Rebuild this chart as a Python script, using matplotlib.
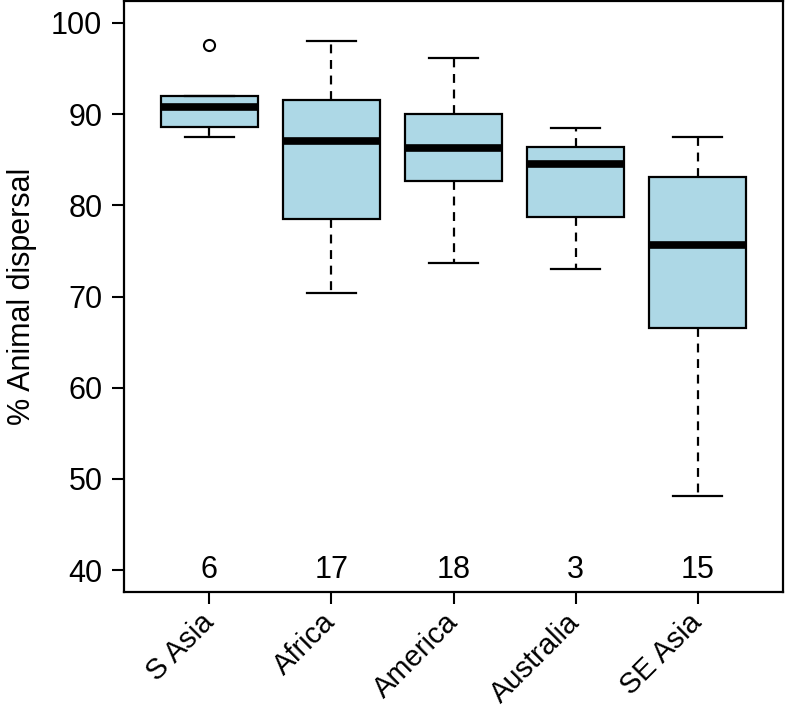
import numpy as np
import matplotlib
matplotlib.use('Agg')
import matplotlib.pyplot as plt

plt.rcParams['font.family'] = ['Liberation Sans', 'DejaVu Sans']

# values
regions = ['S Asia', 'Africa', 'America', 'Australia', 'SE Asia']
n_sites = [6, 17, 18, 3, 15]
whis_lo = [87.5, 70.4, 73.7, 73.0, 48.1]
q1 = [88.6, 78.55, 82.7, 78.7, 66.5]
median = [90.8, 87.0, 86.3, 84.5, 75.6]
q3 = [92.0, 91.5, 90.0, 86.4, 83.1]
whis_hi = [92.0, 98.0, 96.2, 88.5, 87.5]
outliers = [[97.6], [], [], [], []]

stats = []
for i, name in enumerate(regions):
    stats.append(dict(label=name, med=median[i], q1=q1[i], q3=q3[i],
                      whislo=whis_lo[i], whishi=whis_hi[i], fliers=outliers[i]))

FS = 22

fig = plt.figure(figsize=(7.86, 7.13), dpi=100)
ax = fig.add_axes([0.1578, 0.1697, 0.8384, 0.8289])

pos = np.arange(1, len(regions) + 1)
ax.bxp(stats, positions=pos, widths=0.8, patch_artist=True, showfliers=True,
       boxprops=dict(facecolor='#ADD8E6', edgecolor='black', linewidth=1.6),
       medianprops=dict(color='black', linewidth=5.5, solid_capstyle='butt'),
       whiskerprops=dict(color='black', linewidth=1.6, linestyle=(0, (4, 3))),
       capprops=dict(color='black', linewidth=1.6),
       capwidths=0.4,
       flierprops=dict(marker='o', markersize=8, markerfacecolor='none',
                       markeredgecolor='black', markeredgewidth=1.5))

for x, n in zip(pos, n_sites):
    ax.text(x, 40, str(n), ha='center', va='center', fontsize=FS)

ax.set_xlim(0.3, 5.7)
ax.set_ylim(37.6, 102.4)
ax.set_yticks(np.arange(40, 101, 10))
ax.set_xticks(pos)
ax.set_xticklabels(regions, rotation=45, ha='right', va='center',
                   rotation_mode='anchor', fontsize=21)
ax.tick_params(axis='y', direction='out', length=8.6, width=1.5,
               labelsize=FS, pad=7)
ax.tick_params(axis='x', direction='out', length=8.6, width=1.5, pad=10)
for s in ax.spines.values():
    s.set_linewidth(1.6)
ax.set_ylabel('% Animal dispersal', fontsize=FS, labelpad=10)

fig.savefig('out.png', dpi=100)
